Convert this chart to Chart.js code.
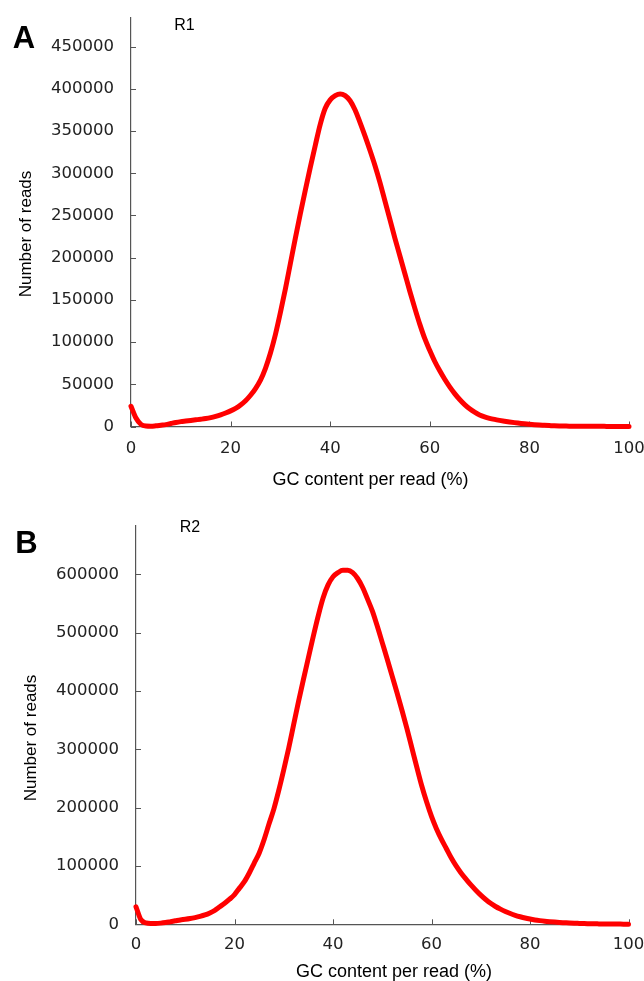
<!DOCTYPE html>
<html><head><meta charset="utf-8">
<script src="https://cdn.jsdelivr.net/npm/chart.js@4/dist/chart.umd.min.js"></script>
<style>
html,body{margin:0;padding:0;background:#fff;}
#wrap{position:relative;width:644px;height:981px;overflow:hidden;background:#fff;}
canvas{position:absolute;left:0;}
.lbl{position:absolute;font-family:"Liberation Sans",Arial,sans-serif;line-height:1;white-space:nowrap;transform:translate(-50%,-50%);color:#000;}
.rot{transform:translate(-50%,-50%) rotate(-90deg);}
</style></head><body>
<div id="wrap">
<canvas id="cA" width="644" height="490" style="top:0"></canvas>
<canvas id="cB" width="644" height="491" style="top:490px"></canvas>
<div class="lbl" style="left:24px;top:37px;font-size:31px;font-weight:bold">A</div>
<div class="lbl" style="left:184.5px;top:25px;font-size:16px">R1</div>
<div class="lbl rot" style="left:25px;top:234px;font-size:17px">Number of reads</div>
<div class="lbl" style="left:370.5px;top:478.5px;font-size:18px">GC content per read (%)</div>
<div class="lbl" style="left:26.5px;top:542px;font-size:31px;font-weight:bold">B</div>
<div class="lbl" style="left:190px;top:526.5px;font-size:16px">R2</div>
<div class="lbl rot" style="left:30px;top:738px;font-size:17px">Number of reads</div>
<div class="lbl" style="left:394px;top:971px;font-size:18px">GC content per read (%)</div>
</div>
<script>
// GC content (%) categories
const gcPercent = [0,1,2,3,4,5,6,7,8,9,10,11,12,13,14,15,16,17,18,19,20,21,22,23,24,25,26,27,28,29,30,31,32,33,34,35,36,37,38,39,40,41,42,43,44,45,46,47,48,49,50,51,52,53,54,55,56,57,58,59,60,61,62,63,64,65,66,67,68,69,70,71,72,73,74,75,76,77,78,79,80,81,82,83,84,85,86,87,88,89,90,91,92,93,94,95,96,97,98,99,100];

// Panel A (R1) number of reads
const readsR1 = [24000,10000,2500,500,300,800,1500,2200,3500,4800,
  5800,6500,7200,7900,8600,9400,10500,12000,13800,16000,
  18500,21500,25500,30500,37000,45000,55000,69000,87000,109000,
  135000,163000,193000,223000,252000,280000,307000,333000,358000,377000,
  387000,392000,394000,392000,386000,375000,360000,344000,327000,309000,
  289000,267000,245000,223000,202000,181000,160000,140000,121000,104000,
  90000,77000,66000,56000,47000,39000,32000,26000,21000,17000,
  13700,11400,9700,8400,7300,6300,5400,4600,3900,3200,
  2600,2100,1700,1400,1100,800,600,500,400,350,
  300,250,200,200,150,150,100,100,100,50,50];

// Panel B (R2) number of reads
const readsR2 = [30000,8000,2500,1500,1500,2000,3000,4500,6000,7500,
  8500,9800,11500,13500,16000,19500,24000,30000,36000,43000,
  51000,62000,73000,88000,105000,122000,145000,172000,198000,230000,
  265000,302000,342000,382000,420000,457000,494000,529000,560000,582000,
  596000,603000,607000,607000,603000,593000,578000,558000,537000,511000,
  483000,455000,426000,397000,367000,336000,303000,270000,238000,210000,
  185000,164000,146000,130000,114000,100000,88000,77500,67500,58500,
  50000,42500,36000,30500,26000,22000,18500,15500,13000,10800,
  9000,7500,6300,5300,4500,3800,3200,2700,2200,1800,
  1500,1200,1000,800,700,600,500,400,350,300,300];

// Tick labels
const xTicks = [0, 20, 40, 60, 80, 100];
const yTicksR1 = [0, 50000, 100000, 150000, 200000, 250000, 300000, 350000, 400000, 450000];
const yTicksR2 = [0, 100000, 200000, 300000, 400000, 500000, 600000];
const yMaxR1 = 484000;
const yMaxR2 = 683000;

const inwardTicks = {
  id: 'inwardTicks',
  beforeDatasetsDraw(chart) {
    const {ctx, chartArea: ca, scales: {x, y}} = chart;
    ctx.save();
    ctx.strokeStyle = '#555';
    ctx.lineWidth = 1;
    x.ticks.forEach(t => {
      const px = Math.round(x.getPixelForValue(t.value)) + 0.5;
      ctx.beginPath(); ctx.moveTo(px, ca.bottom); ctx.lineTo(px, ca.bottom - 5); ctx.stroke();
    });
    y.ticks.forEach(t => {
      const py = Math.round(y.getPixelForValue(t.value)) + 0.5;
      ctx.beginPath(); ctx.moveTo(ca.left, py); ctx.lineTo(ca.left + 5, py); ctx.stroke();
    });
    ctx.restore();
  }
};

function makeChart(id, values, yMax, yTickList, yWidth, xHeight, pad, xPad) {
  const pts = gcPercent.map((g, i) => ({x: g, y: values[i]}));
  return new Chart(document.getElementById(id), {
    type: 'line',
    data: { datasets: [{
      data: pts,
      borderColor: '#ff0000',
      borderWidth: 5,
      pointRadius: 0,
      cubicInterpolationMode: 'monotone',
      borderCapStyle: 'round',
      borderJoinStyle: 'round',
      fill: false,
      clip: false
    }]},
    options: {
      responsive: false,
      animation: false,
      devicePixelRatio: 1,
      layout: { padding: pad },
      plugins: { legend: {display: false}, tooltip: {enabled: false}, title: {display: false} },
      scales: {
        x: {
          type: 'linear', min: 0, max: 100,
          grid: {display: false, drawTicks: false, drawOnChartArea: false},
          border: {display: true, color: '#555', width: 1.2},
          ticks: {padding: xPad, color: '#222', maxRotation: 0, autoSkip: false,
                  font: {family: 'DejaVu Sans', size: 16.5},
                  callback: v => String(v)},
          afterBuildTicks(s) { s.ticks = xTicks.map(v => ({value: v})); },
          afterFit(s) { s.height = xHeight; s.paddingLeft = 0; s.paddingRight = 0; }
        },
        y: {
          type: 'linear', min: 0, max: yMax,
          grid: {display: false, drawTicks: false, drawOnChartArea: false},
          border: {display: true, color: '#555', width: 1.2},
          ticks: {padding: 17, color: '#222', autoSkip: false,
                  font: {family: 'DejaVu Sans', size: 16.5},
                  callback: v => String(v)},
          afterBuildTicks(s) { s.ticks = yTickList.map(v => ({value: v})); },
          afterFit(s) { s.width = yWidth; s.paddingTop = 0; s.paddingBottom = 0; }
        }
      }
    },
    plugins: [inwardTicks]
  });
}

makeChart('cA', readsR1, yMaxR1, yTicksR1, 131, 63.5, {left: 0, right: 15, top: 18, bottom: 0}, 12);
makeChart('cB', readsR2, yMaxR2, yTicksR2, 136, 56.7, {left: 0, right: 15.5, top: 36, bottom: 0}, 11);
</script>
</body></html>
